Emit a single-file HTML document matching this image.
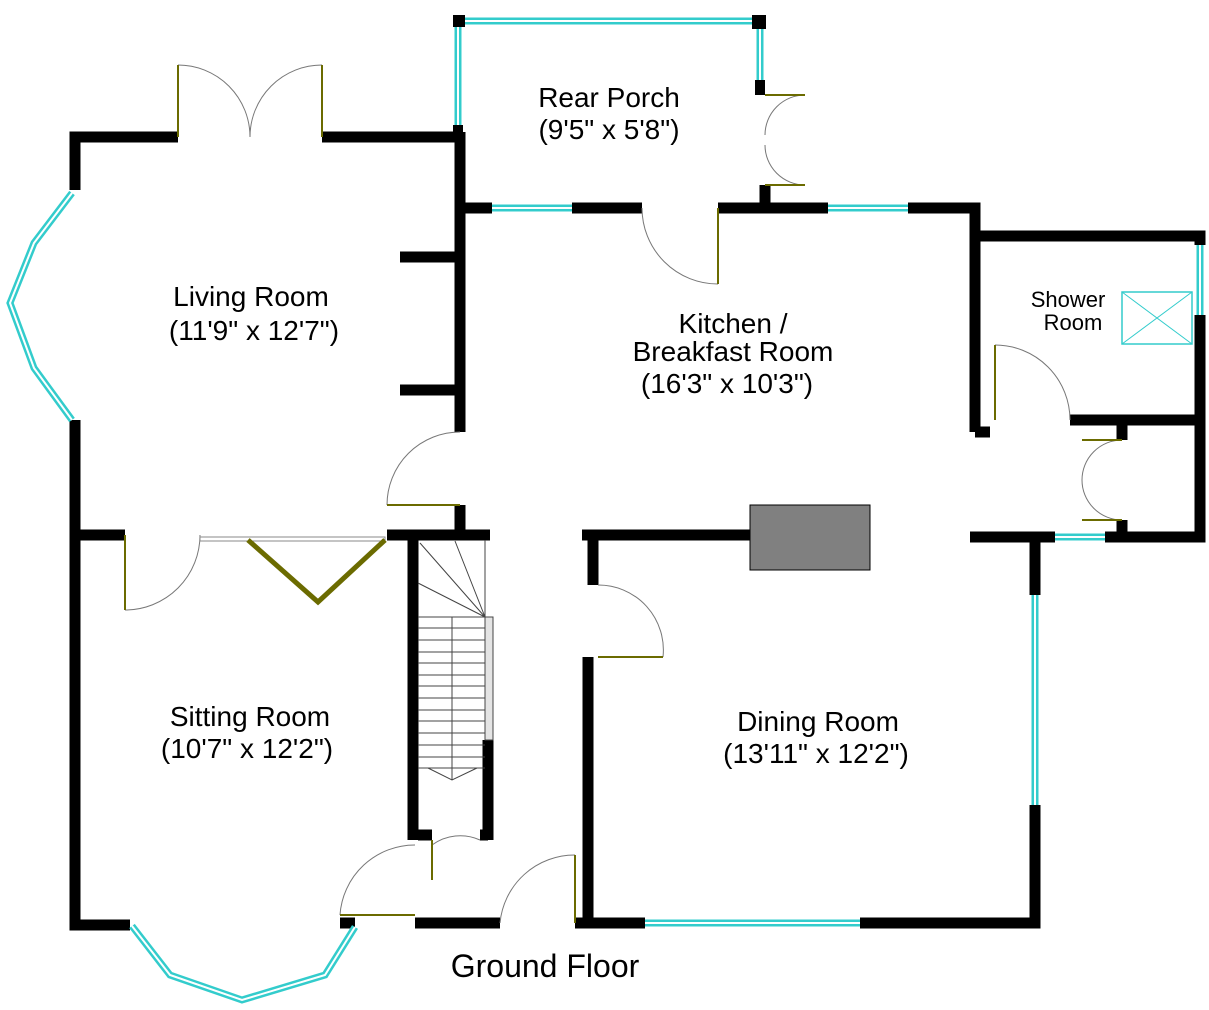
<!DOCTYPE html>
<html><head><meta charset="utf-8"><style>
html,body{margin:0;padding:0;background:#fff;}
svg{display:block;}
text{font-family:"Liberation Sans",sans-serif;fill:#000;}
</style></head><body>
<svg width="1209" height="1010" viewBox="0 0 1209 1010">
<g fill="none" stroke="#000" stroke-width="11" stroke-linecap="butt">
<path d="M75 190 V137 H178"/>
<path d="M322 137 H460"/>
<path d="M75 420 V925 H130"/>
<path d="M80 535 H125"/>
<path d="M387 535 H490"/>
<path d="M460 132 V432"/>
<path d="M400 257 H460"/>
<path d="M400 390 H460"/>
<path d="M460 505 V535"/>
<path d="M460 208 H492"/>
<path d="M572 208 H642"/>
<path d="M718 208 H828"/>
<path d="M908 208 H975 V432"/>
<path d="M975 432 H990"/>
<path d="M765 185 V208"/>
<path d="M975 236 H1200 V245"/>
<path d="M1200 315 V537 H1105"/>
<path d="M1055 537 H970"/>
<path d="M1070 420 H1200"/>
<path d="M1122 425 V440"/>
<path d="M1122 520 V537"/>
<path d="M582 535 H750"/>
<path d="M1035 537 V595"/>
<path d="M1035 805 V923 H860"/>
<path d="M645 923 H588 V657"/>
<path d="M593 540 V585"/>
<path d="M413 540 V840"/>
<path d="M488 740 V840"/>
<path d="M418 835 H432"/>
<path d="M480 835 H488"/>
<path d="M355 923 H340"/>
<path d="M415 923 H500"/>
<path d="M575 923 H588"/>
</g>
<g fill="#000">
<rect x="453" y="15" width="12" height="12"/>
<rect x="752" y="15" width="14" height="14"/>
<rect x="755" y="80" width="10" height="15"/>
<rect x="453" y="125" width="10" height="12"/>
</g>
<g stroke="#3cc" stroke-width="7" fill="none">
<path d="M465 21 H752"/>
<path d="M458 27 V125"/>
<path d="M760 29 V80"/>
<path d="M492 208 H572"/>
<path d="M828 208 H908"/>
<path d="M1200 245 V315"/>
<path d="M1055 537 H1105"/>
<path d="M1035 595 V805"/>
<path d="M645 923 H860"/>
<path d="M72 193 L34 243 L10 303 L34 368 L72 420"/>
<path d="M132 926 L170 975 L242 1000 L325 975 L355 927"/>
</g>
<g stroke="#fff" stroke-width="2" fill="none">
<path d="M465 21 H752"/>
<path d="M458 27 V125"/>
<path d="M760 29 V80"/>
<path d="M492 208 H572"/>
<path d="M828 208 H908"/>
<path d="M1200 245 V315"/>
<path d="M1055 537 H1105"/>
<path d="M1035 595 V805"/>
<path d="M645 923 H860"/>
<path d="M72 193 L34 243 L10 303 L34 368 L72 420"/>
<path d="M132 926 L170 975 L242 1000 L325 975 L355 927"/>
</g>
<g stroke="#777" stroke-width="1" fill="none">
<path d="M178 65 A72 72 0 0 1 250 137"/>
<path d="M322 65 A72 72 0 0 0 250 137"/>
<path d="M765 135 A40 40 0 0 1 805 95"/>
<path d="M765 145 A40 40 0 0 0 805 185"/>
<path d="M642 208 A76 76 0 0 0 718 284"/>
<path d="M460 432 A73 73 0 0 0 387 505"/>
<path d="M125 610 A75 75 0 0 0 200 535"/>
<path d="M995 345 A75 75 0 0 1 1070 420"/>
<path d="M1122 440 A40 40 0 0 0 1082 480"/>
<path d="M1122 520 A40 40 0 0 1 1082 480"/>
<path d="M598 585 A65 65 0 0 1 663 657"/>
<path d="M432 845 A48 48 0 0 1 480 840"/>
<path d="M415 845 A75 75 0 0 0 340 915"/>
<path d="M575 855 A75 75 0 0 0 500 923"/>
</g>
<g stroke="#6b6b00" stroke-width="2" fill="none">
<path d="M178 65 V137 M322 65 V137 M805 95 H765 M805 185 H765 M718 208 V284 M387 505 H460 M125 535 V610 M995 345 V420 M1082 440 H1122 M1082 520 H1122 M598 657 H663 M432 840 V880 M415 915 H340 M575 855 V923"/>
</g>
<rect x="200" y="537" width="185" height="4" fill="none" stroke="#888" stroke-width="1"/>
<path d="M248 540 L318 602 L385 540" stroke="#6b6b00" stroke-width="5" fill="none"/>
<rect x="750" y="505" width="120" height="65" fill="#808080" stroke="#000" stroke-width="1"/>
<rect x="1122" y="292" width="70" height="52" fill="none" stroke="#3cc" stroke-width="1.5"/>
<path d="M1122 292 L1192 344 M1192 292 L1122 344" stroke="#3cc" stroke-width="1"/>
<g stroke="#444" stroke-width="1" fill="none">
<path d="M485 540 V617"/>
<path d="M420 543 L485 617 M455 541 L485 617 M418 583 L485 617"/>
<path d="M418 617 H485 M418 628 H485 M418 640 H485 M418 652 H485 M418 663 H485 M418 675 H485 M418 686 H485 M418 698 H485 M418 710 H485 M418 721 H485 M418 733 H485 M418 745 H485 M418 757 H485 M418 768 H485"/>
<path d="M452 617 V780"/>
<path d="M428 768 L452 780 L477 768"/>
</g>
<rect x="485" y="617" width="8" height="123" fill="#e4e4e4" stroke="#444" stroke-width="1"/>
<g font-size="28" text-anchor="middle">
<text x="609" y="107">Rear Porch</text>
<text x="609" y="139">(9'5" x 5'8")</text>
<text x="251" y="306">Living Room</text>
<text x="254" y="340">(11'9" x 12'7")</text>
<text x="733" y="333">Kitchen /</text>
<text x="733" y="361">Breakfast Room</text>
<text x="727" y="393">(16'3" x 10'3")</text>
<text x="250" y="726">Sitting Room</text>
<text x="247" y="758">(10'7" x 12'2")</text>
<text x="818" y="731">Dining Room</text>
<text x="816" y="763">(13'11" x 12'2")</text>
<text x="545" y="977" font-size="32">Ground Floor</text>
</g>
<g font-size="22" text-anchor="middle">
<text x="1068" y="307">Shower</text>
<text x="1073" y="330">Room</text>
</g>
</svg>
</body></html>
